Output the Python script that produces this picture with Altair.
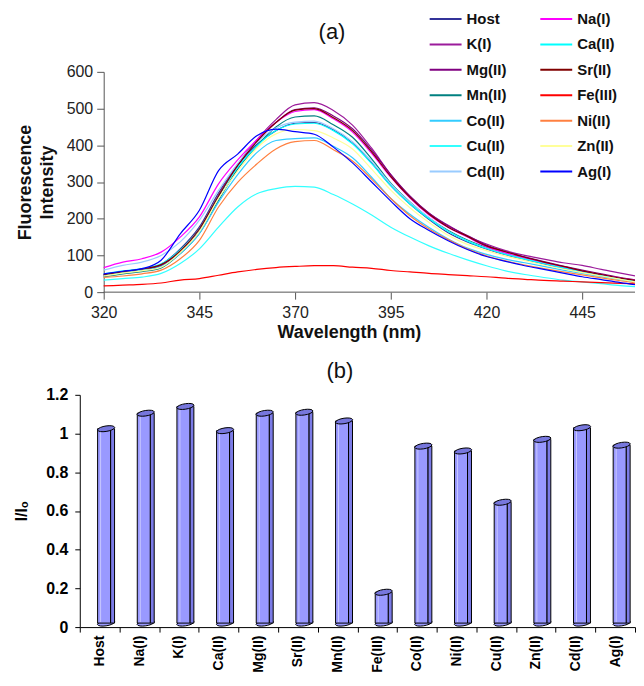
import altair as alt
import pandas as pd

FONT = "Liberation Sans"

wavelength = [320, 325, 330, 335, 340, 345, 350, 355, 360, 365, 370, 375, 380, 385, 390,
              395, 400, 405, 410, 415, 420, 425, 430, 435, 440, 445, 450, 455, 460]

host = [48, 56, 63, 76, 118, 178, 270, 345, 402, 440, 460, 462, 442, 406, 352, 290, 240, 198, 162, 137, 118, 102, 89, 77, 65, 54, 44, 35, 27]
na = [67, 82, 91, 109, 150, 205, 295, 360, 415, 462, 492, 497, 472, 436, 378, 313, 256, 210, 176, 150, 124, 107, 93, 80, 68, 57, 47, 38, 30]
k = [45, 53, 60, 72, 112, 172, 265, 348, 415, 470, 510, 516, 495, 455, 392, 320, 260, 215, 182, 153, 131, 113, 100, 90, 80, 73, 62, 52, 42]
ca = [50, 58, 64, 77, 115, 172, 262, 340, 398, 440, 458, 460, 440, 404, 350, 290, 240, 200, 165, 139, 119, 103, 90, 78, 66, 55, 45, 36, 27]
mg = [46, 54, 61, 73, 110, 170, 262, 345, 410, 462, 497, 502, 480, 445, 387, 320, 262, 215, 180, 154, 128, 110, 96, 83, 71, 60, 50, 40, 32]
sr = [48, 56, 63, 75, 112, 172, 262, 345, 410, 462, 496, 500, 475, 440, 382, 315, 258, 212, 177, 152, 126, 110, 95, 82, 70, 58, 48, 38, 30]
mn = [42, 50, 56, 66, 105, 160, 250, 335, 398, 450, 477, 480, 456, 422, 363, 297, 246, 202, 168, 142, 122, 105, 92, 80, 68, 56, 46, 37, 29]
fe = [17, 19, 21, 25, 33, 37, 46, 55, 62, 67, 70, 72, 72, 68, 65, 59, 55, 51, 48, 45, 42, 38, 35, 32, 30, 28, 26, 24, 22]
co = [46, 54, 60, 70, 105, 160, 245, 320, 380, 413, 418, 420, 397, 366, 313, 255, 212, 176, 145, 120, 103, 90, 80, 70, 60, 51, 42, 34, 26]
ni = [40, 44, 50, 60, 91, 141, 232, 299, 349, 390, 410, 413, 388, 357, 308, 255, 208, 172, 143, 118, 99, 85, 74, 64, 55, 47, 39, 31, 24]
cu = [33, 37, 41, 51, 78, 118, 177, 232, 268, 282, 288, 286, 266, 240, 210, 177, 150, 126, 106, 88, 72, 58, 48, 40, 33, 28, 23, 18, 14]
zn = [44, 52, 58, 68, 108, 165, 255, 330, 392, 431, 443, 440, 420, 390, 335, 278, 230, 190, 155, 130, 113, 98, 86, 74, 63, 53, 44, 35, 26]
cd = [60, 73, 82, 100, 137, 196, 277, 350, 408, 447, 463, 466, 445, 410, 356, 295, 245, 203, 166, 140, 120, 104, 91, 79, 67, 56, 46, 37, 28]
ag = [50, 57, 64, 87, 159, 223, 331, 376, 426, 444, 437, 430, 395, 352, 300, 248, 200, 168, 140, 116, 97, 84, 72, 62, 52, 42, 34, 26, 19]

# legend order (column-major: left column first, then right column)
series_names = ["Host", "K(I)", "Mg(II)", "Mn(II)", "Co(II)", "Cu(II)", "Cd(II)",
                "Na(I)", "Ca(II)", "Sr(II)", "Fe(III)", "Ni(II)", "Zn(II)", "Ag(I)"]
series_values = [host, k, mg, mn, co, cu, cd, na, ca, sr, fe, ni, zn, ag]
series_colors = ["#333399", "#9B1B9B", "#800080", "#008080", "#33CCFF", "#33FFFF", "#99CCFF",
                 "#FF00FF", "#00FFFF", "#800000", "#FF0000", "#FF8040", "#FFFF99", "#0000FF"]

bar_labels = ["Host", "Na(I)", "K(I)", "Ca(II)", "Mg(II)", "Sr(II)", "Mn(II)",
              "Fe(III)", "Co(II)", "Ni(II)", "Cu(II)", "Zn(II)", "Cd(II)", "Ag(I)"]
bar_values = [1.025, 1.105, 1.14, 1.015, 1.105, 1.11, 1.065, 0.18, 0.935, 0.91, 0.645, 0.97, 1.03, 0.94]

rows = []
for name, vals in zip(series_names, series_values):
    for w, v in zip(wavelength, vals):
        rows.append({"series": name, "wavelength": w, "intensity": v})
lines_df = pd.DataFrame(rows)
bars_df = pd.DataFrame({"ion": bar_labels, "ratio": bar_values})

color_scale = alt.Scale(domain=series_names, range=series_colors)
x_scale = alt.Scale(domain=[313.75, 458.8], nice=False, zero=False)
y_scale = alt.Scale(domain=[0, 600], nice=False)

lines = alt.Chart(lines_df).mark_line(strokeWidth=1.2, interpolate="monotone", clip=True).encode(
    x=alt.X("wavelength:Q", scale=x_scale,
            axis=alt.Axis(values=[320, 345, 370, 395, 420, 445], tickCount=12,
                          title="Wavelength (nm)",
                          domain=False, titleFontSize=18, titleFontWeight="bold", titleX=270,
                          labelFontSize=16, labelFontWeight="normal", tickSize=7,
                          labelPadding=5, titlePadding=3, labelOverlap=False,
                          tickColor="#555555", labelColor="#222222", titleColor="#111111")),
    y=alt.Y("intensity:Q", scale=y_scale,
            axis=alt.Axis(values=[0, 100, 200, 300, 400, 500, 600], tickCount=12, offset=-24,
                          title=["Fluorescence", "Intensity"], labelOverlap=False,
                          titleFontSize=18, titleFontWeight="bold", titlePadding=10,
                          titleLineHeight=22,
                          labelFontSize=16, labelFontWeight="normal", tickSize=7,
                          labelPadding=4, domainColor="#555555", tickColor="#555555",
                          labelColor="#222222", titleColor="#111111")),
    color=alt.Color("series:N", scale=color_scale, sort=series_names,
                    legend=alt.Legend(title=None, orient="none", legendX=350, legendY=-62,
                                      offset=0, columns=2, symbolType="M-1,0H3",
                                      symbolSize=256, symbolStrokeWidth=2,
                                      labelFontSize=15, labelFontWeight="bold",
                                      labelFont=FONT, labelOffset=20, rowPadding=8.5,
                                      columnPadding=30, labelColor="#111111")),
)

x_axis_line = alt.Chart(alt.Data(values=[{}])).mark_rule(color="#555555", strokeWidth=1).encode(
    x=alt.datum(320, scale=x_scale), x2=alt.datum(458.8), y=alt.datum(0, scale=y_scale))

top = alt.layer(lines, x_axis_line).properties(
    width=557, height=221,
    title=alt.TitleParams("(a)", fontSize=22, fontWeight="normal", font=FONT,
                          dx=-25.5, offset=20, color="#111111"),
)

base = alt.Chart(bars_df).encode(
    x=alt.X("ion:N", sort=bar_labels,
            scale=alt.Scale(paddingInner=0, paddingOuter=0),
            axis=alt.Axis(title=None, labelAngle=-90, labelFontSize=14,
                          labelFontWeight="bold", tickBand="extent", tickSize=5,
                          labelPadding=3, labelOverlap=False, domainColor="#000000",
                          tickColor="#000000", labelColor="#000000")),
)

y_enc = alt.Y("ratio:Q", scale=alt.Scale(domain=[0, 1.2], nice=False),
              axis=alt.Axis(values=[0, 0.2, 0.4, 0.6, 0.8, 1.0, 1.2], tickCount=12,
                            format="~g",
                            title="I/Iₒ", titleFontSize=16, titleFontWeight="bold",
                            titlePadding=16, labelFontSize=16, labelFontWeight="bold",
                            labelOverlap=False,
                            tickSize=5, labelPadding=7, domainColor="#000000",
                            tickColor="#000000", labelColor="#000000",
                            titleColor="#000000"))

cap_path = "M -1 0.15 C -0.9 -0.3 0.9 -0.55 1 -0.15 C 0.9 0.3 -0.9 0.55 -1 0.15 Z"

bottom_cap = base.mark_point(shape=cap_path, size=300, filled=True, fill="#9999FF",
                             stroke="#000000", strokeWidth=1, opacity=1, xOffset=6.5,
                             yOffset=-4).encode(y=alt.datum(0))
side = base.mark_bar(width=4, xOffset=13, fill="#7B7BE6", stroke="#000000",
                     strokeWidth=1, y2Offset=-4).encode(y=y_enc, y2=alt.datum(0))
front = base.mark_bar(width=13, xOffset=4.5, fill="#9999FF", stroke="#000000",
                      strokeWidth=1, y2Offset=-4).encode(y="ratio:Q", y2=alt.datum(0))
shine = base.mark_bar(width=1, xOffset=1, fill="#C8C8FF", y2Offset=-5, yOffset=2).encode(
    y="ratio:Q", y2=alt.datum(0))
top_cap = base.mark_point(shape=cap_path, size=300, filled=True, fill="#7777DD",
                          stroke="#000000", strokeWidth=1, opacity=1,
                          xOffset=6.5).encode(y="ratio:Q")

bottom = alt.layer(bottom_cap, side, front, shine, top_cap).properties(
    width=557, height=233,
    title=alt.TitleParams("(b)", fontSize=22, fontWeight="normal", font=FONT,
                          dx=-17.5, offset=4, color="#111111"),
)

chart = alt.vconcat(top, bottom, spacing=19).configure(
    font=FONT, padding={"left": 5, "top": 1, "right": 0, "bottom": 0},
).configure_view(stroke=None).configure_axis(grid=False, labelFont=FONT, titleFont=FONT)

chart.save("out.html", embed_options={"renderer": "svg", "actions": False})
